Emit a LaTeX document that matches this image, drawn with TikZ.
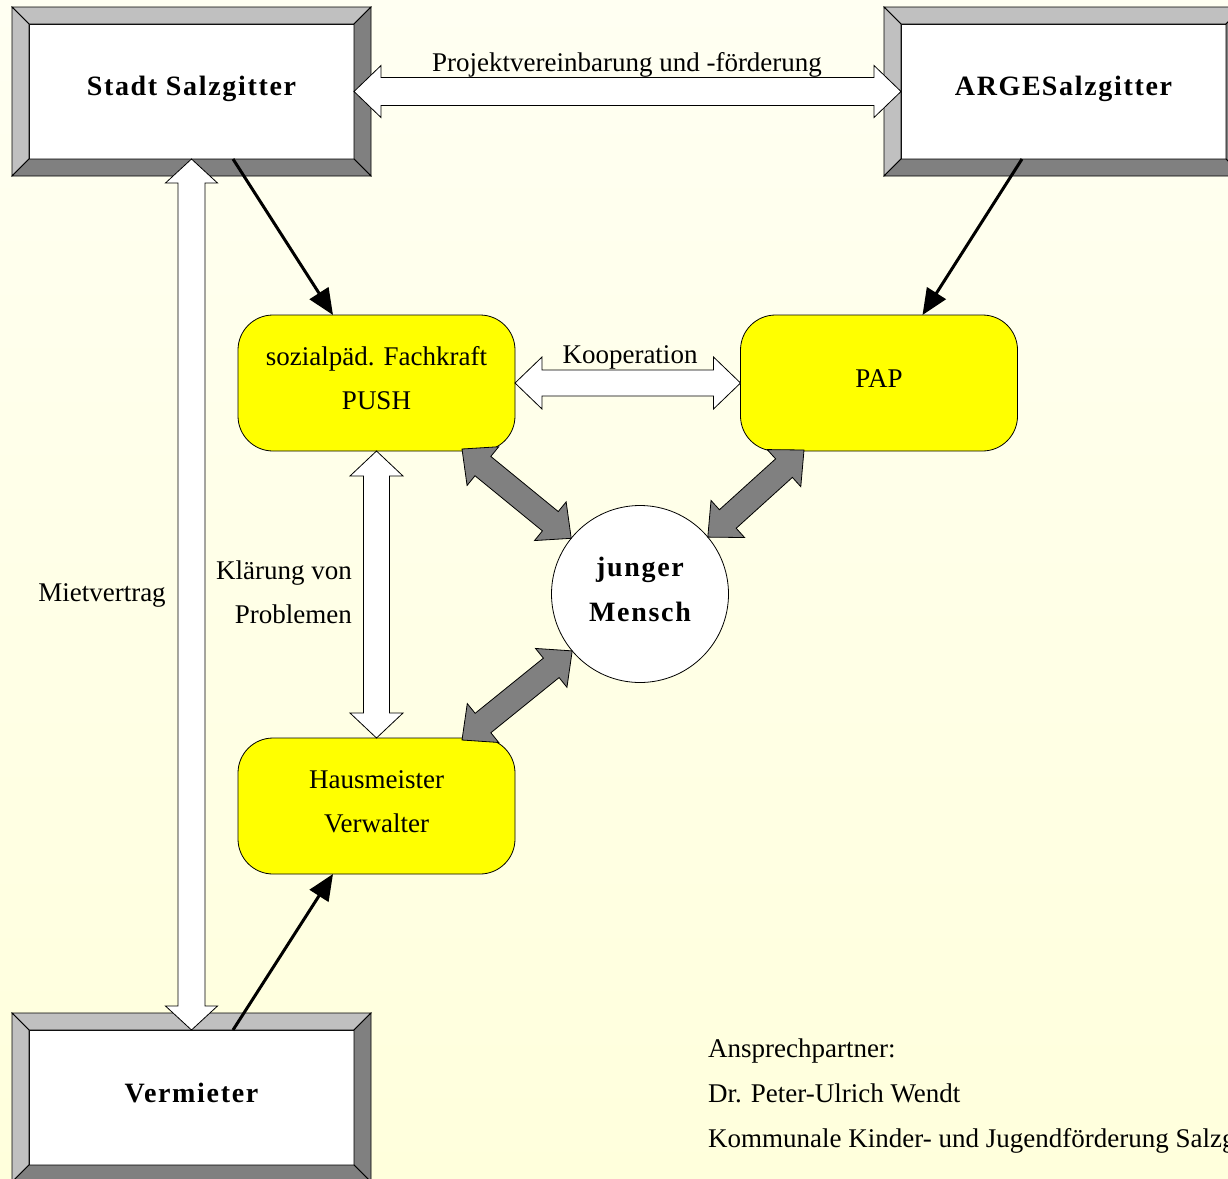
\documentclass[tikz,border=0pt]{standalone}
\usepackage{fontspec}
\setmainfont{Liberation Serif}
\usetikzlibrary{calc,arrows.meta}
\definecolor{lg}{HTML}{C0C0C0}
\definecolor{dg}{HTML}{808080}
\definecolor{bgtop}{HTML}{FFFFF2}
\definecolor{bgbot}{HTML}{FFFFDC}
\definecolor{yel}{HTML}{FFFF00}
% double block arrow: style, A, B, shaft half width, head half width, head length
\newcommand\dblarrow[6]{%
 \draw[#1] (#2) -- ($(#2)!#6!(#3)!#5!90:(#3)$) -- ($(#2)!#6!(#3)!#4!90:(#3)$)
  -- ($(#3)!#6!(#2)!#4!-90:(#2)$) -- ($(#3)!#6!(#2)!#5!-90:(#2)$) -- (#3)
  -- ($(#3)!#6!(#2)!#5!90:(#2)$) -- ($(#3)!#6!(#2)!#4!90:(#2)$)
  -- ($(#2)!#6!(#3)!#4!-90:(#3)$) -- ($(#2)!#6!(#3)!#5!-90:(#3)$) -- cycle;}
\newcommand\bevelframe[1]{%
 \coordinate (#1otl) at ($(#1.north west)+(-17,-17)$);
 \coordinate (#1otr) at ($(#1.north east)+(17,-17)$);
 \coordinate (#1obl) at ($(#1.south west)+(-17,17)$);
 \coordinate (#1obr) at ($(#1.south east)+(17,17)$);
 \filldraw[bevel,fill=lg] (#1otl) -- (#1otr) -- (#1.north east) -- (#1.north west) -- cycle;
 \filldraw[bevel,fill=lg] (#1otl) -- (#1.north west) -- (#1.south west) -- (#1obl) -- cycle;
 \filldraw[bevel,fill=dg] (#1otr) -- (#1obr) -- (#1.south east) -- (#1.north east) -- cycle;
 \filldraw[bevel,fill=dg] (#1obl) -- (#1.south west) -- (#1.south east) -- (#1obr) -- cycle;}
\tikzset{
 bevel/.style={draw=black,line width=0.8pt,line join=miter},
 bevelbox/.style={draw=black,line width=0.8pt,fill=white,minimum width=325pt,minimum height=135pt,
   inner sep=0pt,outer sep=0pt},
 ybox/.style={draw=black,line width=0.8pt,fill=yel,rounded corners=35pt,minimum width=277pt,
   minimum height=136pt,inner sep=0pt,outer sep=0pt},
 mcircle/.style={circle,draw=black,line width=0.8pt,fill=white,minimum size=177pt,inner sep=0pt,
   outer sep=0pt},
 boldtxt/.style={inner sep=0pt,align=center,
   font=\fontsize{28}{45}\selectfont\bfseries\addfontfeature{LetterSpace=6}},
 lbl/.style={inner sep=0pt,align=center,font=\fontsize{27}{44}\selectfont},
 whitearr/.style={draw=black,fill=white,line width=0.8pt,line join=miter},
 grayarr/.style={draw=black,fill=dg,line width=0.8pt,line join=miter},
 blackarr/.style={draw=black,line width=3pt,-{Triangle[length=26pt,width=22pt]}},
}
\begin{document}
\begin{tikzpicture}[x=1pt,y=-1pt]
\useasboundingbox (0,0) rectangle (1228,1178);
\shade[top color=bgtop,bottom color=bgbot] (0,0) rectangle (1228,1178);
\clip (0,0) rectangle (1228,1178);
% bevel boxes
\node[bevelbox] (stadt) at (191.5,91.5) {};
\node[bevelbox] (arge) at (1063.5,91.5) {};
\node[bevelbox] (verm) at (191.5,1097.5) {};
\bevelframe{stadt}
\bevelframe{arge}
\bevelframe{verm}
\node[boldtxt] (stadttxt) at ($(stadt)+(0,-3)$) {Stadt Salzgitter};
\node[boldtxt] (argetxt) at ($(arge)+(0,-3)$) {ARGE\hspace{1pt}Salzgitter};
\node[boldtxt] (vermtxt) at ($(verm)+(0,-5)$) {Vermieter};
% yellow boxes and circle
\node[ybox] (push) at (376.5,383) {};
\node[ybox] (pap) at (879,383) {};
\node[ybox] (haus) at (376.5,806) {};
\node[mcircle] (mensch) at (640,594) {};
\node[lbl] (pushtxt) at ($(push)+(0,-5)$) {sozialpäd. Fachkraft\\PUSH};
\node[lbl] (paptxt) at ($(pap)+(0,-4)$) {PAP};
\node[lbl] (haustxt) at ($(haus)+(0,-4)$) {Hausmeister\\Verwalter};
\node[boldtxt] (menschtxt) at ($(mensch)+(0,-5)$) {junger\\Mensch};
% white double arrows
\dblarrow{whitearr}{stadt.east}{arge.west}{14pt}{26pt}{27pt}
\dblarrow{whitearr}{stadt.south}{verm.north}{13.5pt}{26pt}{24pt}
\dblarrow{whitearr}{push.east}{pap.west}{13pt}{26pt}{27pt}
\dblarrow{whitearr}{push.south}{haus.north}{13pt}{26.5pt}{25pt}
% gray double arrows
\coordinate (g1) at (462,449);
\coordinate (g2) at (804,450);
\coordinate (g3) at (462,740);
\dblarrow{grayarr}{g1}{mensch.141}{12.5pt}{25pt}{27pt}
\dblarrow{grayarr}{g2}{mensch.40}{12.5pt}{25pt}{27pt}
\dblarrow{grayarr}{g3}{mensch.220}{12.5pt}{25pt}{27pt}
% black arrows
\draw[blackarr] ($(stadt.south west)+(204,0)$) -- ($(push.north west)+(95,0)$);
\draw[blackarr] ($(arge.south west)+(121,0)$) -- ($(pap.north west)+(182,0)$);
\draw[blackarr] ($(verm.north west)+(204,0)$) -- ($(haus.south west)+(95,0)$);
% labels
\node[lbl] (lproj) at (627,65) {Projektvereinbarung und -förderung};
\node[lbl] (lmiet) at (102,595) {Mietvertrag};
\node[lbl,anchor=east,align=right] (lklar) at (352,592) {Klärung von\\Problemen};
\node[lbl] (lkoop) at (630,357) {Kooperation};
\node[lbl,anchor=west,align=left,font=\fontsize{27}{45}\selectfont] (lansp) at (708,1096)
  {Ansprechpartner:\\Dr. Peter-Ulrich Wendt\\Kommunale Kinder- und Jugendförderung Salzgitter};
\end{tikzpicture}
\end{document}
